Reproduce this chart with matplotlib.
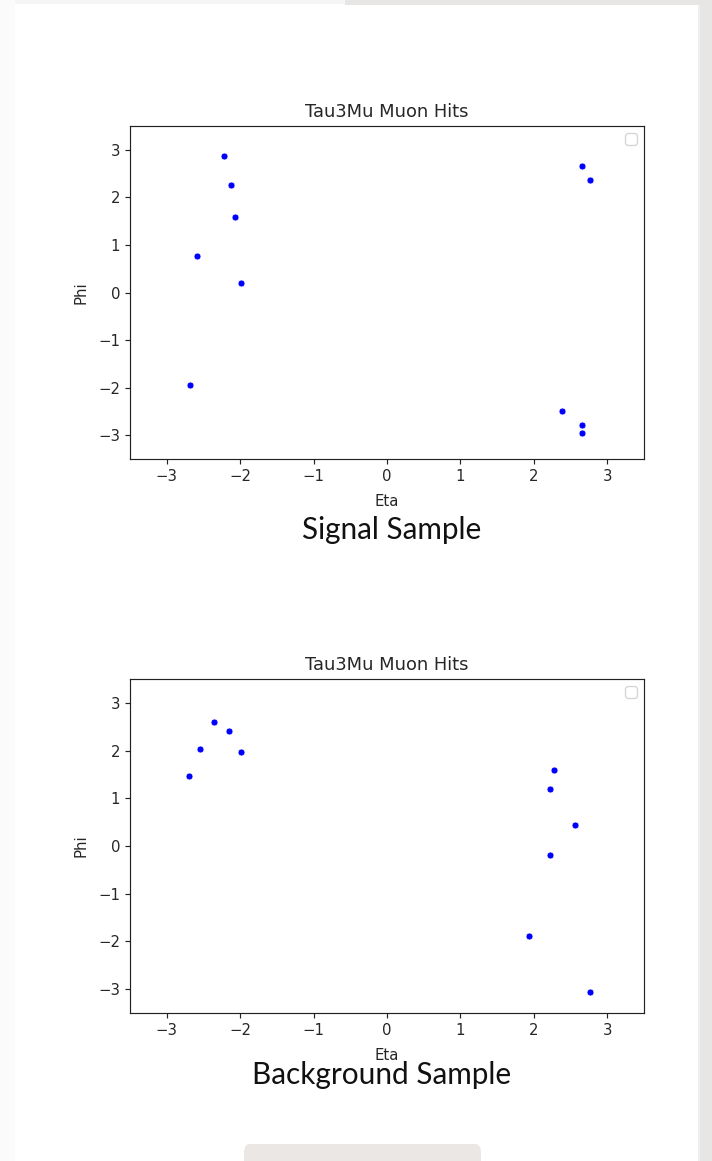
import matplotlib
matplotlib.use("Agg")
import matplotlib.pyplot as plt
from matplotlib.patches import Rectangle, FancyBboxPatch

# ---- data ----
signal_eta = [-2.22, -2.13, -2.13, -2.07, -2.59, -1.99, -2.68, 2.65, 2.77, 2.77, 2.38, 2.66, 2.65]
signal_phi = [2.87, 2.255, 2.255, 1.59, 0.78, 0.21, -1.95, 2.66, 2.375, 2.375, -2.49, -2.77, -2.95]

bkg_eta = [-2.69, -2.55, -2.35, -2.15, -1.99, 2.28, 2.22, 2.56, 2.22, 1.94, 2.77]
bkg_phi = [1.46, 2.04, 2.59, 2.42, 1.98, 1.59, 1.19, 0.43, -0.19, -1.89, -3.05]

title = "Tau3Mu Muon Hits"
xlabel = "Eta"
ylabel = "Phi"
captions = ["Signal Sample", "Background Sample"]
xticks = [-3, -2, -1, 0, 1, 2, 3]
yticks = [-3, -2, -1, 0, 1, 2, 3]

W, H = 712, 1161
fig = plt.figure(figsize=(W / 100, H / 100), dpi=100)
fig.patch.set_facecolor("white")

def fx(px):
    return px / W

def fy(py):
    return 1 - py / H

# screenshot background pieces
gray = "#e8e6e4"
fig.patches.append(Rectangle((fx(700), 0), fx(12), 1, transform=fig.transFigure,
                             facecolor=gray, edgecolor="none", zorder=0))
fig.patches.append(Rectangle((fx(698), 0), fx(2), 1, transform=fig.transFigure,
                             facecolor="#f0efee", edgecolor="none", zorder=0))
fig.patches.append(Rectangle((fx(345), fy(4.5)), fx(367), 4.5 / H, transform=fig.transFigure,
                             facecolor=gray, edgecolor="none", zorder=0))
fig.patches.append(Rectangle((0, fy(4)), fx(345), 4 / H, transform=fig.transFigure,
                             facecolor="#f6f6f6", edgecolor="none", zorder=0))
fig.patches.append(Rectangle((0, 0), fx(15), 1, transform=fig.transFigure,
                             facecolor="#fbfbfb", edgecolor="none", zorder=0))
fig.patches.append(FancyBboxPatch((fx(244), fy(1175)), fx(237), 31 / H,
                                  boxstyle="round,pad=0,rounding_size=0.008",
                                  transform=fig.transFigure,
                                  facecolor="#ebe7e4", edgecolor="none", zorder=0))

tick_fs = 10.7
title_fs = 12.9

def make_panel(top_px, bottom_px, eta, phi):
    ax = fig.add_axes([fx(130), fy(bottom_px), fx(644 - 130), (bottom_px - top_px) / H])
    ax.scatter(eta, phi, s=25, c="blue", edgecolors="white", linewidths=0.5, zorder=3)
    ax.set_xlim(-3.5, 3.5)
    ax.set_ylim(-3.5, 3.5)
    ax.set_xticks(xticks)
    ax.set_yticks(yticks)
    ax.set_xticklabels([f"\u2212{abs(t)}" if t < 0 else str(t) for t in xticks])
    ax.set_yticklabels([f"\u2212{abs(t)}" if t < 0 else str(t) for t in yticks])
    ax.tick_params(labelsize=tick_fs, length=3.6, width=0.85, colors="#222222", labelcolor="#262626")
    for sp in ax.spines.values():
        sp.set_linewidth(0.85)
        sp.set_color("#222222")
    ax.set_title(title, fontsize=title_fs, color="#262626", pad=6.2)
    ax.set_xlabel(xlabel, fontsize=tick_fs, color="#262626", labelpad=7.0)
    ax.set_ylabel(ylabel, fontsize=tick_fs, color="#262626", labelpad=7.0)
    ax.legend(handles=[], labels=[], loc="upper right", fontsize=tick_fs)
    return ax

make_panel(126, 459.3, signal_eta, signal_phi)
make_panel(679, 1013, bkg_eta, bkg_phi)

fig.text(fx(391.4), fy(539), captions[0], ha="center", va="baseline",
         fontsize=21.4, family=["Lato", "DejaVu Sans"], color="#111111")
fig.text(fx(381.5), fy(1084.3), captions[1], ha="center", va="baseline",
         fontsize=21.4, family=["Lato", "DejaVu Sans"], color="#111111")

fig.savefig("out.png", dpi=100)
